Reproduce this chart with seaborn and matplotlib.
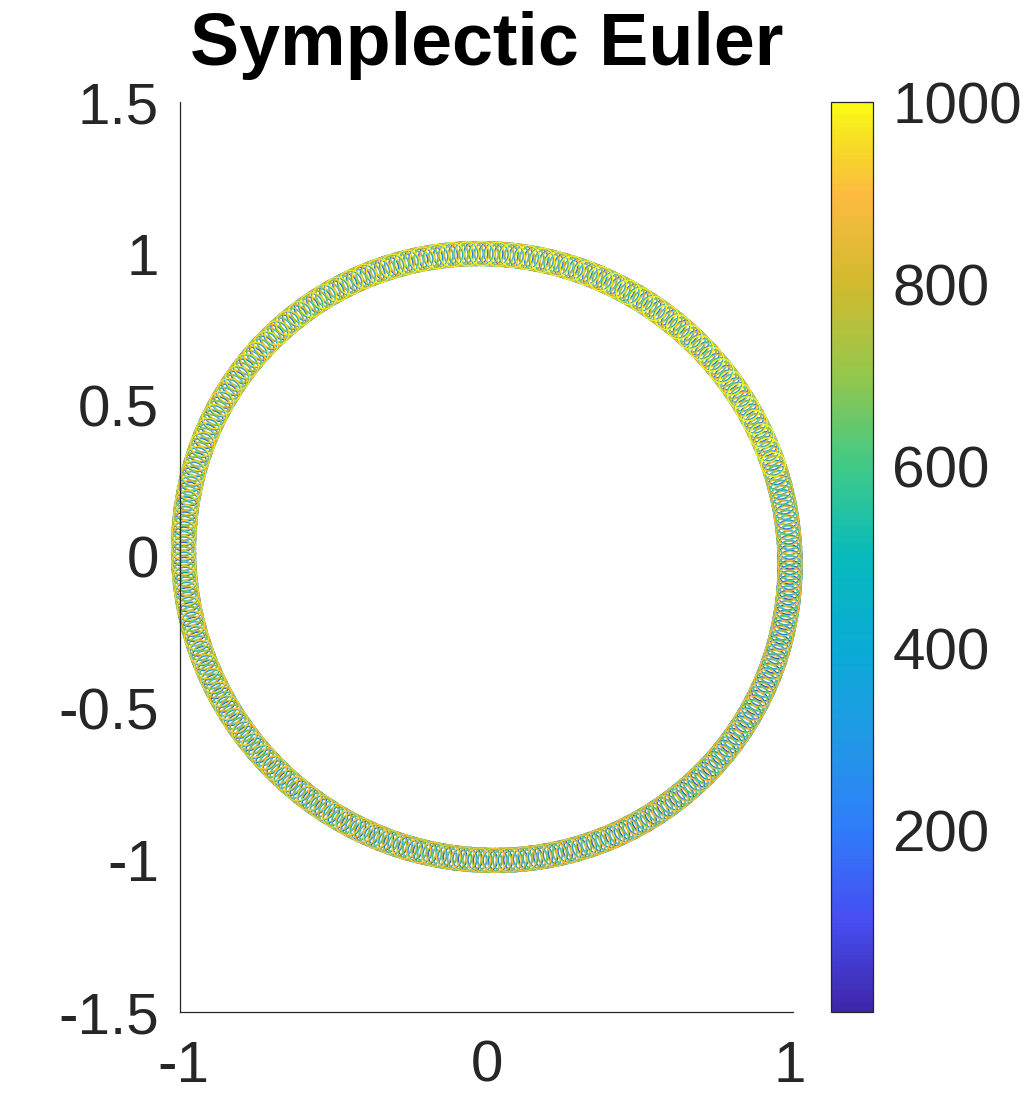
import numpy as np
import pandas as pd
import matplotlib
matplotlib.use("Agg")
import matplotlib.pyplot as plt
from matplotlib.colors import LinearSegmentedColormap, Normalize
from matplotlib.cm import ScalarMappable
import seaborn as sns

# ---- data: symplectic Euler trajectory for the harmonic oscillator ----
title_text = "Symplectic Euler"
n_steps = 1000
step_h = 0.05
q0, p0 = 1.0, 0.0
x_ticks = [-1, 0, 1]
x_ticklabels = ["-1", "0", "1"]
y_ticks = [-1.5, -1, -0.5, 0, 0.5, 1, 1.5]
y_ticklabels = ["-1.5", "-1", "-0.5", "0", "0.5", "1", "1.5"]
cbar_ticks = [200, 400, 600, 800, 1000]

q = np.empty(n_steps)
p = np.empty(n_steps)
q[0], p[0] = q0, p0
for n in range(n_steps - 1):
    q[n + 1] = q[n] + step_h * p[n]
    p[n + 1] = p[n] - step_h * q[n + 1]
steps = np.arange(1, n_steps + 1)
df = pd.DataFrame({"q": q, "p": p, "step": steps})

# ---- parula-like colormap ----
parula_anchors = [
    (0.00, (0.2422, 0.1504, 0.6603)),
    (0.10, (0.2786, 0.3046, 0.9500)),
    (0.20, (0.1900, 0.4900, 0.9800)),
    (0.30, (0.1300, 0.6000, 0.9000)),
    (0.40, (0.0400, 0.6700, 0.8400)),
    (0.50, (0.0300, 0.7300, 0.7400)),
    (0.60, (0.2500, 0.7900, 0.5300)),
    (0.70, (0.5800, 0.7800, 0.3000)),
    (0.80, (0.8200, 0.7300, 0.1800)),
    (0.90, (0.9900, 0.7300, 0.2500)),
    (0.95, (0.9700, 0.8500, 0.1600)),
    (1.00, (0.9769, 0.9839, 0.0805)),
]
parula = LinearSegmentedColormap.from_list("parula", parula_anchors)

sns.set_style("white")
plt.rcParams["font.family"] = ["Liberation Sans", "DejaVu Sans"]
plt.rcParams["axes.unicode_minus"] = False

W, H = 1035, 1100
fig = plt.figure(figsize=(W / 100, H / 100), dpi=100)
ax = fig.add_axes([180 / W, 88 / H, 613 / W, 910 / H])

norm = Normalize(vmin=1, vmax=n_steps)
sns.scatterplot(data=df, x="q", y="p", hue="step", palette=parula,
                hue_norm=norm, legend=False, s=300, marker="o",
                linewidth=0.9, ax=ax)
coll = ax.collections[0]
fc = coll.get_facecolors()
coll.set_edgecolors(fc)
coll.set_facecolors("none")
coll.set_clip_on(False)

dark = (0.15, 0.15, 0.15)
ax.set_xlim(-1.012, 1.010)
ax.set_ylim(-1.5, 1.5)
ax.set_xticks(x_ticks)
ax.set_xticklabels(x_ticklabels)
ax.set_yticks(y_ticks)
ax.set_yticklabels(y_ticklabels)
ax.set_xlabel("")
ax.set_ylabel("")
for side in ["top", "right"]:
    ax.spines[side].set_visible(False)
for side in ["left", "bottom"]:
    ax.spines[side].set_color(dark)
    ax.spines[side].set_linewidth(0.9)
ax.tick_params(axis="both", direction="in", length=7, width=0.8,
               color=dark, labelcolor=dark, labelsize=42)
ax.tick_params(axis="x", pad=20)
ax.tick_params(axis="y", pad=15)
ax.set_title(title_text, fontsize=53, fontweight="bold", pad=27, color="black")

cax = fig.add_axes([831 / W, 88 / H, 42 / W, 910 / H])
sm = ScalarMappable(norm=norm, cmap=parula)
cb = fig.colorbar(sm, cax=cax)
cb.set_ticks(cbar_ticks)
cb.set_ticklabels([str(t) for t in cbar_ticks])
cb.outline.set_edgecolor(dark)
cb.outline.set_linewidth(0.9)
cax.tick_params(direction="in", length=7, width=0.8, color=dark,
                labelcolor=dark, labelsize=42, pad=14)

fig.savefig("out.png", dpi=100)
